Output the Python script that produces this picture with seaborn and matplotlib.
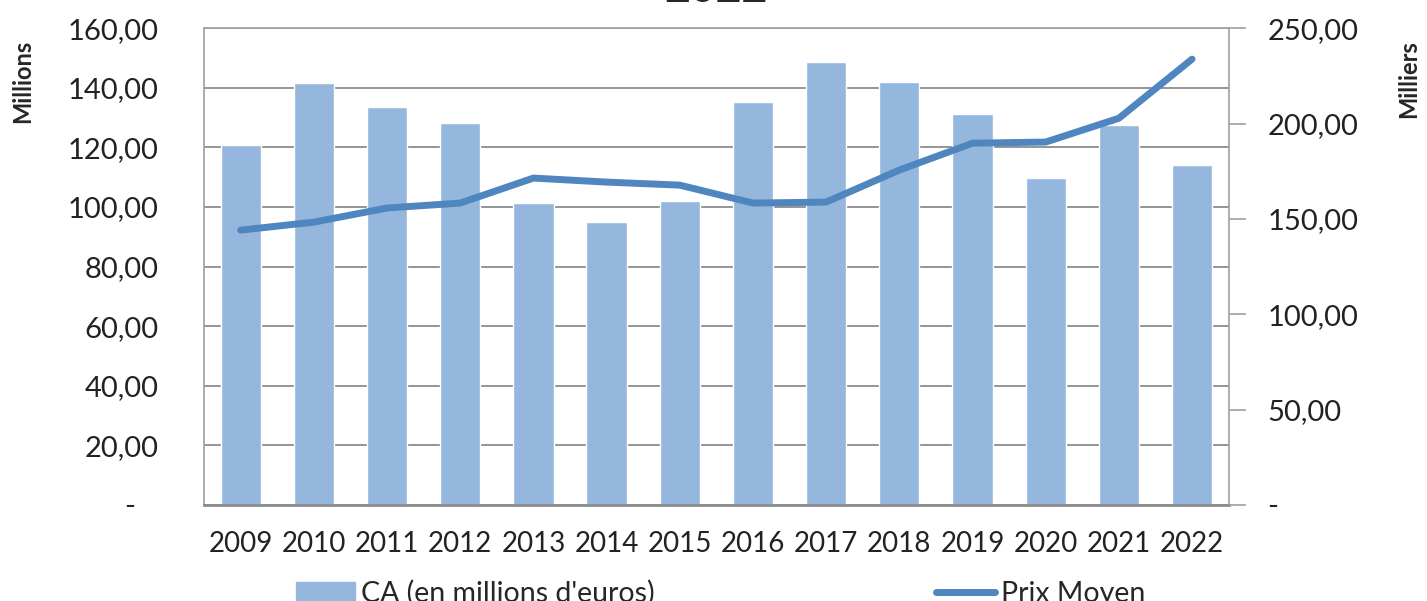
import numpy as np
import matplotlib.pyplot as plt
import matplotlib.patches as mpatches
import matplotlib.lines as mlines
from matplotlib.ticker import FuncFormatter, MultipleLocator
import seaborn as sns

years = ["2009", "2010", "2011", "2012", "2013", "2014", "2015",
         "2016", "2017", "2018", "2019", "2020", "2021", "2022"]
ca_millions = [120.8, 141.6, 133.6, 128.2, 101.3, 95.0, 102.0,
               135.2, 148.7, 142.0, 131.2, 109.7, 127.5, 114.0]
prix_moyen = [144.1, 148.3, 155.7, 158.3, 171.4, 169.3, 167.7,
              158.3, 158.8, 175.6, 189.7, 190.3, 202.8, 233.8]

bar_color = "#95b7de"
line_color = "#4f86c0"
grid_color = "#8c8c8c"

sns.set_style("white")
plt.rcParams["font.family"] = ["Lato", "DejaVu Sans"]


def fr_fmt(v, pos):
    if abs(v) < 1e-9:
        return "-"
    return f"{v:.2f}".replace(".", ",")


def fr_fmt_left(v, pos):
    # excel-style accounting format: the zero dash sits a bit left
    if abs(v) < 1e-9:
        return "-   "
    return fr_fmt(v, pos)


fig = plt.figure(figsize=(14.27, 6.01), dpi=100)
ax = fig.add_axes([0.143, 0.160, 0.718, 0.793])

sns.barplot(x=years, y=ca_millions, color=bar_color, width=0.55,
            saturation=1, ax=ax, zorder=2)
ax.set_ylim(0, 160)
ax.set_xlim(-0.5, len(years) - 0.5)
ax.yaxis.set_major_locator(MultipleLocator(20))
ax.yaxis.set_major_formatter(FuncFormatter(fr_fmt_left))
ax.grid(axis="y", color=grid_color, linewidth=1.3, zorder=0)
ax.set_axisbelow(True)
ax.tick_params(axis="y", labelsize=21, length=0, pad=33, colors="#222222")
ax.tick_params(axis="x", labelsize=20, length=0, pad=19, colors="#222222")
for lbl in ax.get_yticklabels():
    lbl.set_horizontalalignment("right")
ax.set_xlabel("")
ax.set_ylabel("")
for s in ["left", "right", "top"]:
    ax.spines[s].set_color("#a0a0a0")
    ax.spines[s].set_linewidth(1.2)
ax.spines["bottom"].set_color("#8c8c8c")
ax.spines["bottom"].set_linewidth(2)

ax2 = ax.twinx()
sns.lineplot(x=np.arange(len(years)), y=prix_moyen, color=line_color,
             linewidth=5, ax=ax2, zorder=3)
ax2.set_ylim(0, 250)
ax2.yaxis.set_major_locator(MultipleLocator(50))
ax2.yaxis.set_major_formatter(FuncFormatter(fr_fmt))
ax2.tick_params(axis="y", labelsize=21, length=12, width=1.2,
                pad=16, colors="#222222")
ax2.tick_params(axis="y", color="#a0a0a0")
for s in ["left", "right", "top", "bottom"]:
    ax2.spines[s].set_visible(False)
ax2.set_ylabel("")

fig.text(0.016, 0.864, "Millions", rotation=90, ha="center", va="center",
         fontsize=17, fontweight="bold")
fig.text(0.987, 0.869, "Milliers", rotation=90, ha="center", va="center",
         fontsize=17, fontweight="bold")
fig.text(0.502, 1.018, "2022", ha="center", va="center",
         fontsize=32, fontweight="bold")

h1 = mpatches.Patch(color=bar_color, label="CA (en millions d'euros)")
h2 = mlines.Line2D([], [], color=line_color, linewidth=5, label="Prix Moyen")
fig.legend(handles=[h1, h2], loc="center", bbox_to_anchor=(0.505, 0.012),
           ncol=2, frameon=False, fontsize=20.5, handlelength=2.07,
           handletextpad=0.2, columnspacing=9.9)

fig.savefig("out.png", dpi=100)
